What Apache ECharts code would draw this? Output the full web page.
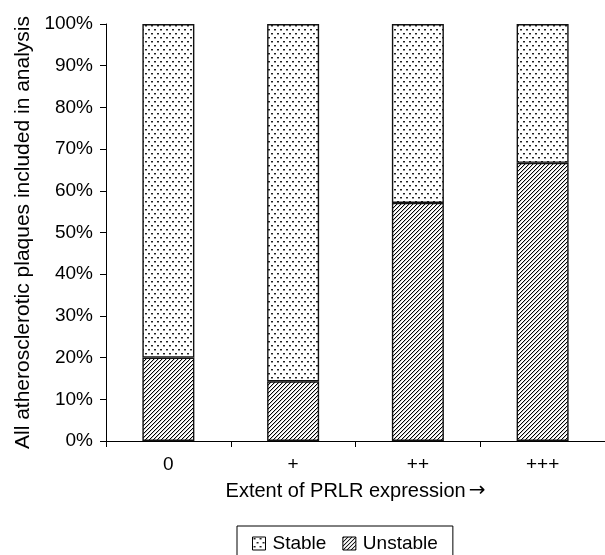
<!DOCTYPE html>
<html>
<head>
<meta charset="utf-8">
<script src="https://cdn.jsdelivr.net/npm/echarts@6/dist/echarts.min.js"></script>
<style>
html,body{margin:0;padding:0;background:#fff;}
#chart{width:605px;height:555px;}
</style>
</head>
<body>
<div id="chart"></div>
<script>
var categories = ['0', '+', '++', '+++'];
var unstableValues = [20.0, 14.3, 57.1, 66.7];
var stableValues = [80.0, 85.7, 42.9, 33.3];
var yTickLabels = ['0%','10%','20%','30%','40%','50%','60%','70%','80%','90%','100%'];

function dotPattern() {
  var c = document.createElement('canvas');
  c.width = 6; c.height = 8;
  var g = c.getContext('2d');
  g.fillStyle = '#fff'; g.fillRect(0, 0, 6, 8);
  g.fillStyle = '#222';
  g.fillRect(1, 1, 2, 1);
  g.fillStyle = '#999';
  g.fillRect(1, 2, 2, 1);
  g.fillStyle = '#222';
  g.fillRect(4, 5, 2, 1);
  g.fillStyle = '#999';
  g.fillRect(4, 6, 2, 1);
  return c;
}
function hatchPattern() {
  var n = 4;
  var c = document.createElement('canvas');
  c.width = n; c.height = n;
  var g = c.getContext('2d');
  var img = g.createImageData(n, n);
  for (var y = 0; y < n; y++) {
    for (var x = 0; x < n; x++) {
      var i = (y * n + x) * 4;
      var k = (x + y) % n;
      var v = (k === 0) ? 0 : (k === 1 ? 200 : 255);
      img.data[i] = v; img.data[i+1] = v; img.data[i+2] = v; img.data[i+3] = 255;
    }
  }
  g.putImageData(img, 0, 0);
  return c;
}

var chart = echarts.init(document.getElementById('chart'));
var font = "'Liberation Sans', Arial, sans-serif";
chart.setOption({
  animation: false,
  backgroundColor: '#fff',
  textStyle: { fontFamily: font, color: '#000' },
  grid: { left: 106, right: 0, top: 24, bottom: 114, containLabel: false },
  legend: {
    data: ['Stable', 'Unstable'],
    left: 237, top: 526,
    orient: 'horizontal',
    icon: 'rect',
    itemWidth: 13, itemHeight: 13, itemGap: 16,
    padding: [8, 15, 16, 15],
    borderColor: '#000', borderWidth: 1,
    itemStyle: { borderColor: '#000', borderWidth: 1 },
    textStyle: { fontFamily: font, fontSize: 19, color: '#000', padding: [0, 0, 0, 2] }
  },
  xAxis: {
    type: 'category',
    data: categories,
    name: 'Extent of PRLR expression{a|\u2192}',
    nameLocation: 'middle',
    nameGap: 40,
    nameTextStyle: {
      fontFamily: font, fontSize: 20, color: '#000',
      rich: { a: { fontFamily: "'DejaVu Sans'", fontSize: 20, color: '#000', padding: [0, 0, 0, 3] } }
    },
    axisLine: { lineStyle: { color: '#000', width: 1 } },
    axisTick: { show: true, inside: false, length: 6, lineStyle: { color: '#000' } },
    axisLabel: { fontFamily: font, fontSize: 19, color: '#000', margin: 14 },
    splitLine: { show: false }
  },
  yAxis: {
    type: 'value',
    min: 0, max: 100, interval: 10,
    name: 'All atherosclerotic plaques included in analysis',
    nameLocation: 'middle',
    nameGap: 72,
    nameTextStyle: { fontFamily: font, fontSize: 21, color: '#000' },
    axisLine: { show: true, lineStyle: { color: '#000', width: 1 } },
    axisTick: { show: true, inside: false, length: 6, lineStyle: { color: '#000' } },
    axisLabel: {
      fontFamily: font, fontSize: 19, color: '#000', margin: 13,
      formatter: function (v) { return yTickLabels[Math.round(v / 10)]; }
    },
    splitLine: { show: false }
  },
  series: [
    {
      name: 'Unstable', type: 'bar', stack: 'all', barWidth: 52,
      data: unstableValues,
      itemStyle: { color: { image: hatchPattern(), repeat: 'repeat' }, borderColor: '#111', borderWidth: 1.4 }
    },
    {
      name: 'Stable', type: 'bar', stack: 'all', barWidth: 52,
      data: stableValues,
      itemStyle: { color: { image: dotPattern(), repeat: 'repeat' }, borderColor: '#111', borderWidth: 1.4 }
    }
  ]
});
</script>
</body>
</html>
